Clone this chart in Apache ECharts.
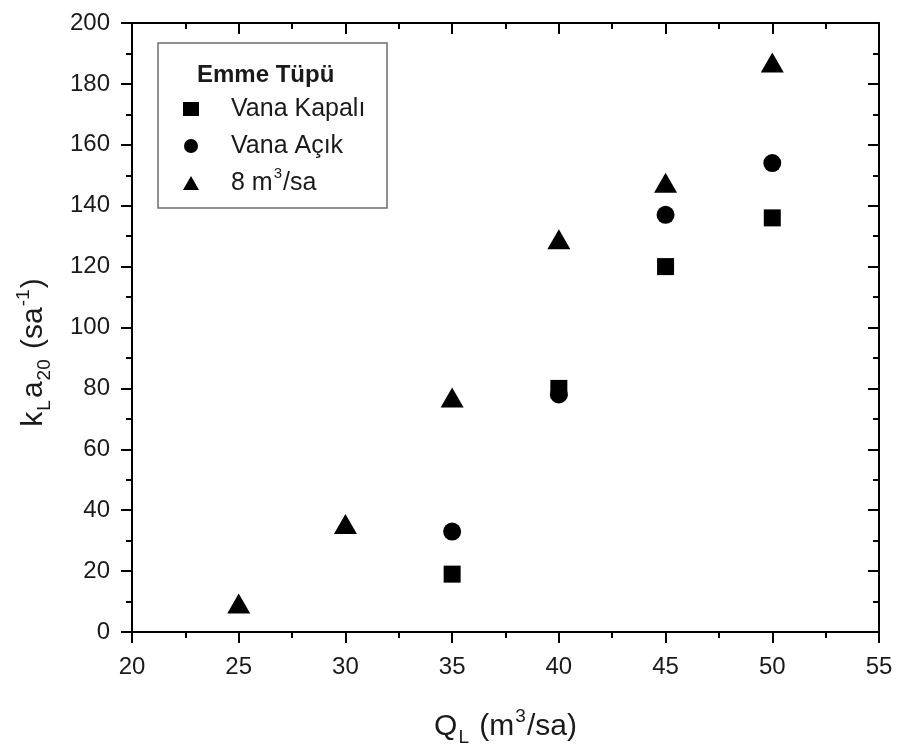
<!DOCTYPE html>
<html>
<head>
<meta charset="utf-8">
<title>kLa20 - QL</title>
<script src="https://cdn.jsdelivr.net/npm/echarts@6/dist/echarts.min.js"></script>
<style>
  html, body { margin: 0; padding: 0; background: #fff; }
  #chart { width: 899px; height: 751px; }
</style>
</head>
<body>
<div id="chart"></div>
<script>
// Liquid flow rate (m3/sa) for each measured series
var xKapali = [35, 40, 45, 50];
var yKapali = [19, 80, 120, 136];

var xAcik = [35, 40, 45, 50];
var yAcik = [33, 78, 137, 154];

var x8 = [25, 30, 35, 40, 45, 50];
var y8 = [9.4, 35.5, 77, 129, 147.5, 187];

var seriesNames = ['Vana Kapalı', 'Vana Açık', '8 m³/sa'];
var legendTitle = 'Emme Tüpü';

function pairs(xs, ys) {
  return xs.map(function (x, i) { return [x, ys[i]]; });
}

var FONT = '"Liberation Sans", Arial, sans-serif';
var INK = '#1a1a1a';

var richTitle = {
  b: { fontSize: 30, fontFamily: FONT, color: INK, lineHeight: 40 },
  sub: { fontSize: 19, fontFamily: FONT, color: INK, lineHeight: 19, verticalAlign: 'bottom', padding: [0, 2, 0, 1] },
  sup: { fontSize: 19, fontFamily: FONT, color: INK, lineHeight: 19, verticalAlign: 'top', padding: [0, 1, 0, 1] }
};

var axisLineStyle = { color: '#000', width: 2 };

function xAxisDef(pos) {
  var main = pos === 'bottom';
  return {
    type: 'value', position: pos, min: 20, max: 55, interval: 5,
    axisLine: { show: true, onZero: false, lineStyle: axisLineStyle },
    axisTick: { show: true, inside: !main, length: 11, lineStyle: { color: '#000', width: 2 } },
    minorTick: { show: true, splitNumber: 2, length: 6, lineStyle: { color: '#000', width: 2 } },
    splitLine: { show: false },
    axisLabel: { show: main, margin: 23, fontSize: 24, fontFamily: FONT, color: INK },
    name: main ? '{b|Q}{sub|L}{b| (m}{sup|3}{b|/sa)}' : '',
    nameLocation: 'middle',
    nameGap: 75,
    nameTextStyle: { rich: richTitle }
  };
}

function yAxisDef(pos) {
  var main = pos === 'left';
  return {
    type: 'value', position: pos, min: 0, max: 200, interval: 20,
    axisLine: { show: true, onZero: false, lineStyle: axisLineStyle },
    axisTick: { show: true, inside: !main, length: 11, lineStyle: { color: '#000', width: 2 } },
    minorTick: { show: true, splitNumber: 2, length: 6, lineStyle: { color: '#000', width: 2 } },
    splitLine: { show: false },
    axisLabel: { show: main, margin: 22, fontSize: 24, fontFamily: FONT, color: INK },
    name: main ? '{b|k}{sub|L}{b|a}{sub|20}{b| (sa}{sup|-1}{b|)}' : '',
    nameLocation: 'middle',
    nameGap: 78,
    nameRotate: 90,
    nameTextStyle: { rich: richTitle, padding: [0, 50, 0, 0] }
  };
}

var chart = echarts.init(document.getElementById('chart'), null, { renderer: 'canvas' });

chart.setOption({
  backgroundColor: '#fff',
  animation: false,
  grid: { left: 132, right: 20, top: 23, bottom: 119, outerBoundsMode: 'none' },
  xAxis: [xAxisDef('bottom'), xAxisDef('top')],
  yAxis: [yAxisDef('left'), yAxisDef('right')],
  legend: {
    orient: 'vertical',
    left: 178,
    top: 87,
    itemWidth: 16,
    itemHeight: 14,
    itemGap: 3,
    data: [
      { name: seriesNames[0], icon: 'rect' },
      { name: seriesNames[1], icon: 'circle' },
      { name: seriesNames[2], icon: 'triangle' }
    ],
    formatter: function (name) {
      if (name === seriesNames[2]) return '{t|8 m}{sup|3}{t|/sa}';
      return '{t|' + name + '}';
    },
    textStyle: {
      fontSize: 25, fontFamily: FONT, color: INK, lineHeight: 34,
      padding: [0, 0, 0, 27],
      rich: {
        t: { fontSize: 25, fontFamily: FONT, color: INK, lineHeight: 34 },
        sup: { fontSize: 15, fontFamily: FONT, color: INK, lineHeight: 15, verticalAlign: 'top', padding: [0, 1, 0, 1] }
      }
    }
  },
  graphic: [
    {
      type: 'rect',
      shape: { x: 158, y: 43, width: 229, height: 165 },
      style: { fill: 'rgba(0,0,0,0)', stroke: '#6e6e6e', lineWidth: 1.5 },
      z: 10
    },
    {
      type: 'text',
      left: 197,
      top: 63,
      style: { text: legendTitle, font: 'bold 24px ' + FONT, fill: INK },
      z: 10
    }
  ],
  series: [
    {
      name: seriesNames[0], type: 'scatter', symbol: 'rect', symbolSize: 17,
      itemStyle: { color: '#000', opacity: 1 },
      data: pairs(xKapali, yKapali)
    },
    {
      name: seriesNames[1], type: 'scatter', symbol: 'circle', symbolSize: 18,
      itemStyle: { color: '#000', opacity: 1 },
      data: pairs(xAcik, yAcik)
    },
    {
      name: seriesNames[2], type: 'scatter', symbol: 'triangle', symbolSize: [23, 20],
      itemStyle: { color: '#000', opacity: 1 },
      data: pairs(x8, y8)
    }
  ]
});
</script>
</body>
</html>
